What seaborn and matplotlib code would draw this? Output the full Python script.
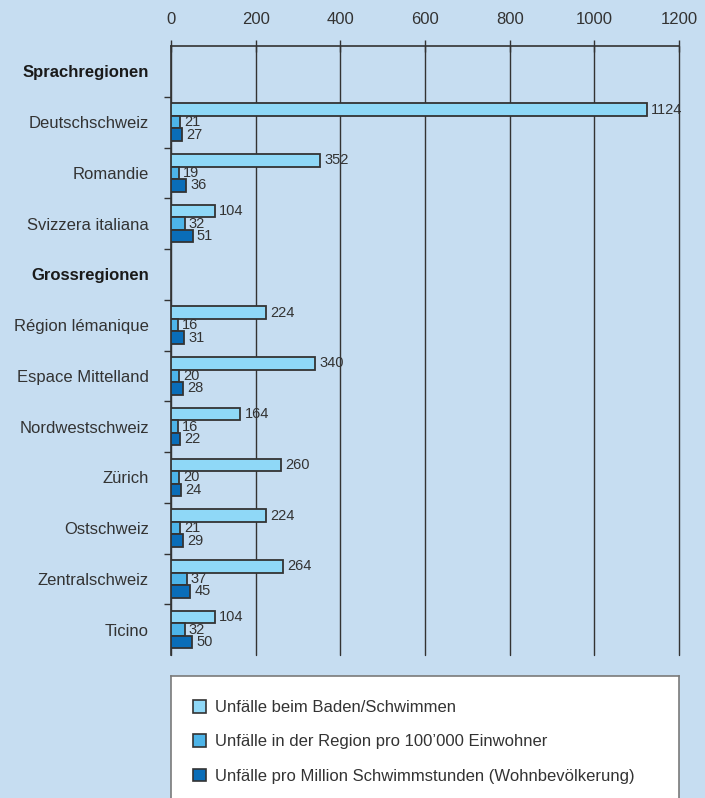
import numpy as np
import pandas as pd
import matplotlib
matplotlib.use("Agg")
import matplotlib.pyplot as plt
import seaborn as sns
from matplotlib.patches import Patch

# Row order on the y axis (headers carry no data)
rows = ["Sprachregionen", "Deutschschweiz", "Romandie", "Svizzera italiana",
        "Grossregionen", "Région lémanique", "Espace Mittelland", "Nordwestschweiz",
        "Zürich", "Ostschweiz", "Zentralschweiz", "Ticino"]
headers = ["Sprachregionen", "Grossregionen"]

regions = ["Deutschschweiz", "Romandie", "Svizzera italiana",
           "Région lémanique", "Espace Mittelland", "Nordwestschweiz",
           "Zürich", "Ostschweiz", "Zentralschweiz", "Ticino"]
unfaelle = [1124, 352, 104, 224, 340, 164, 260, 224, 264, 104]
pro_einwohner = [21, 19, 32, 16, 20, 16, 20, 21, 37, 32]
pro_schwimmstunden = [27, 36, 51, 31, 28, 22, 24, 29, 45, 50]

series = ["Unfälle beim Baden/Schwimmen",
          "Unfälle in der Region pro 100’000 Einwohner",
          "Unfälle pro Million Schwimmstunden (Wohnbevölkerung)"]
colors = ["#8fd8f7", "#4db4e8", "#0a6db8"]
x_ticks = [0, 200, 400, 600, 800, 1000, 1200]

df = pd.DataFrame({
    "Region": regions * 3,
    "Wert": unfaelle + pro_einwohner + pro_schwimmstunden,
    "Serie": [series[0]] * len(regions) + [series[1]] * len(regions) + [series[2]] * len(regions),
})

bg = "#c6ddf1"
ink = "#333333"
sns.set_theme(style="white")
plt.rcParams["font.family"] = ["Liberation Sans", "DejaVu Sans"]

fig = plt.figure(figsize=(7.05, 7.98), dpi=100, facecolor=bg)
ax = fig.add_axes([171 / 705, 1 - 655 / 798, 508 / 705, 609 / 798])
ax.set_facecolor(bg)

sns.barplot(data=df, y="Region", x="Wert", hue="Serie", order=rows,
            hue_order=series, palette=colors, saturation=1, orient="h", width=0.74,
            edgecolor=ink, linewidth=1.3, ax=ax, legend=False, errorbar=None,
            zorder=3)

for cont in ax.containers:
    ax.bar_label(cont, fmt="%d", padding=3, fontsize=10.5, color=ink)

ax.set_xlim(0, 1200)
ax.set_ylim(len(rows) - 0.5, -0.5)
ax.set_xticks(x_ticks)
ax.xaxis.tick_top()
ax.tick_params(axis="x", which="major", top=True, bottom=False, direction="inout",
               length=8, width=1, color=ink, labelsize=12, labelcolor=ink, pad=10)
ax.grid(axis="x", color=ink, linewidth=1, zorder=0)
for gl in ax.get_xgridlines():
    gl.set_clip_on(False)
ax.set_axisbelow(True)

ax.set_yticks(range(len(rows)))
ax.set_yticklabels(rows)
ax.set_yticks(np.arange(0.5, len(rows) - 0.5, 1), minor=True)
ax.tick_params(axis="y", which="major", length=0, pad=16, labelsize=12, labelcolor=ink)
ax.tick_params(axis="y", which="minor", left=True, length=5, width=1, color=ink,
               direction="out")
for lab in ax.get_yticklabels():
    if lab.get_text() in headers:
        lab.set_fontweight("bold")
        lab.set_color("#1a1a1a")

ax.set_xlabel("")
ax.set_ylabel("")
for side in ["right", "bottom"]:
    ax.spines[side].set_visible(False)
for side in ["left", "top"]:
    ax.spines[side].set_color(ink)
    ax.spines[side].set_linewidth(1.2)

# Legend panel below the chart
lax = fig.add_axes([171 / 705, -0.02, 508 / 705, (798 - 676) / 798 + 0.02])
lax.set_facecolor("white")
lax.set_xticks([])
lax.set_yticks([])
for s in lax.spines.values():
    s.set_color("#7a7a7a")
    s.set_linewidth(1.2)
handles = [Patch(facecolor=c, edgecolor=ink, linewidth=1.2) for c in colors]
lax.legend(handles, series, loc="upper left", bbox_to_anchor=(0.03, 0.875),
           frameon=False, fontsize=12, labelcolor=ink, handlelength=0.8,
           handleheight=0.8, handletextpad=0.5, labelspacing=1.15, borderaxespad=0)

fig.savefig("out.png", dpi=100, facecolor=bg)
